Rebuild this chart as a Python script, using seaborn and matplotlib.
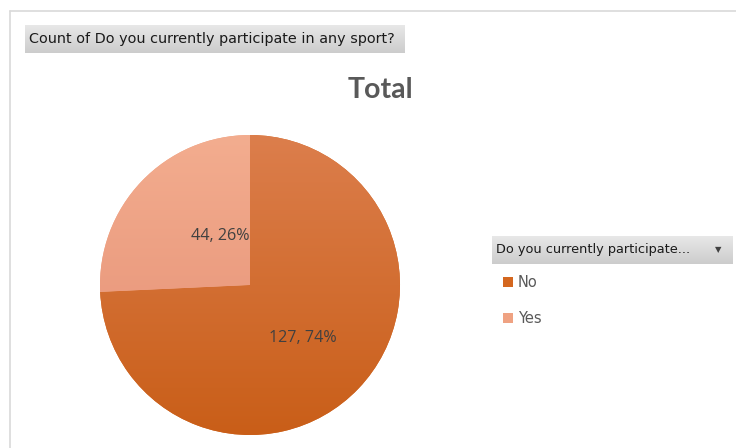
import numpy as np
import matplotlib
matplotlib.use("Agg")
import matplotlib.pyplot as plt
from matplotlib.colors import LinearSegmentedColormap
from matplotlib.lines import Line2D
import seaborn as sns

# ---- data ----
categories = ["No", "Yes"]
counts = [127, 44]
title = "Total"
field_button = "Count of Do you currently participate in any sport?"
legend_title = "Do you currently participate..."

# ---- style ----
sns.set_theme(style="white")
plt.rcParams["font.family"] = ["DejaVu Sans"]

W, H = 736, 448
fig = plt.figure(figsize=(W / 100, H / 100), dpi=100)
fig.patch.set_facecolor("white")

def px_axes(x0, y0, x1, y1):
    return fig.add_axes([x0 / W, 1 - y1 / H, (x1 - x0) / W, (y1 - y0) / H])

# border lines
fig.add_artist(Line2D([10 / W, 1], [1 - 11.5 / H, 1 - 11.5 / H], color="#d9d9d9", lw=1.2))
fig.add_artist(Line2D([10 / W, 10 / W], [0, 1 - 11.5 / H], color="#d9d9d9", lw=1.2))

# gray gradient buttons
btn_cmap = LinearSegmentedColormap.from_list("btn", ["#e8e8e8", "#cccccc"])
grad = np.linspace(0, 1, 64).reshape(-1, 1)

def button(x0, y0, x1, y1, text, fs, arrow=False):
    bax = px_axes(x0, y0, x1, y1)
    bax.imshow(grad, aspect="auto", cmap=btn_cmap, extent=[0, 1, 0, 1], origin="upper")
    bax.set_axis_off()
    bax.text(4 / (x1 - x0), 0.5, text, ha="left", va="center", fontsize=fs,
             color="#1a1a1a", transform=bax.transAxes)
    if arrow:
        bax.text(1 - 15 / (x1 - x0), 0.5, "▼", ha="center", va="center", fontsize=6,
                 color="#404040", transform=bax.transAxes)

button(25, 25, 405, 53, field_button, 10.4)
button(492, 236, 733, 264, legend_title, 9.3, arrow=True)

# title
fig.text(380 / W, 1 - 90 / H, title, ha="center", va="center", fontsize=20.5,
         fontweight="bold", color="#595959", family=["Lato", "DejaVu Sans"])

# ---- pie ----
ax = px_axes(100, 135, 400, 435)
base_colors = ["#D4671F", "#EFA282"]
grad_pairs = [("#DC7E4C", "#C95E18"), ("#F3AD8F", "#E48D72")]
wedges, _ = ax.pie(counts, colors=base_colors, startangle=90, counterclock=False,
                   radius=1, wedgeprops=dict(linewidth=0))
gy = np.linspace(0, 1, 256).reshape(-1, 1)
for w, (c_top, c_bot) in zip(wedges, grad_pairs):
    cm = LinearSegmentedColormap.from_list("g", [c_top, c_bot])
    im = ax.imshow(gy, aspect="auto", cmap=cm, extent=[-1, 1, -1, 1], origin="upper",
                   zorder=w.get_zorder() + 0.1)
    im.set_clip_path(w)
ax.set_xlim(-1, 1)
ax.set_ylim(-1, 1)
ax.set_aspect("auto")
ax.set_axis_off()

total = sum(counts)
label_pos = {"No": (0.355, -0.35), "Yes": (-0.20, 0.325)}
for cat, val in zip(categories, counts):
    x, y = label_pos[cat]
    ax.text(x, y, f"{val}, {round(100 * val / total)}%", ha="center", va="center",
            fontsize=11.6, color="#404040", zorder=10, family=["Open Sans", "DejaVu Sans"])

# legend
leg = fig.legend(wedges, categories, loc="upper left",
                 bbox_to_anchor=(490 / W, 1 - 262 / H), frameon=False,
                 handlelength=0.7, handleheight=0.7, handletextpad=0.3,
                 labelspacing=1.45, fontsize=10.5, labelcolor="#595959")

fig.savefig("out.png", dpi=100, facecolor="white")
